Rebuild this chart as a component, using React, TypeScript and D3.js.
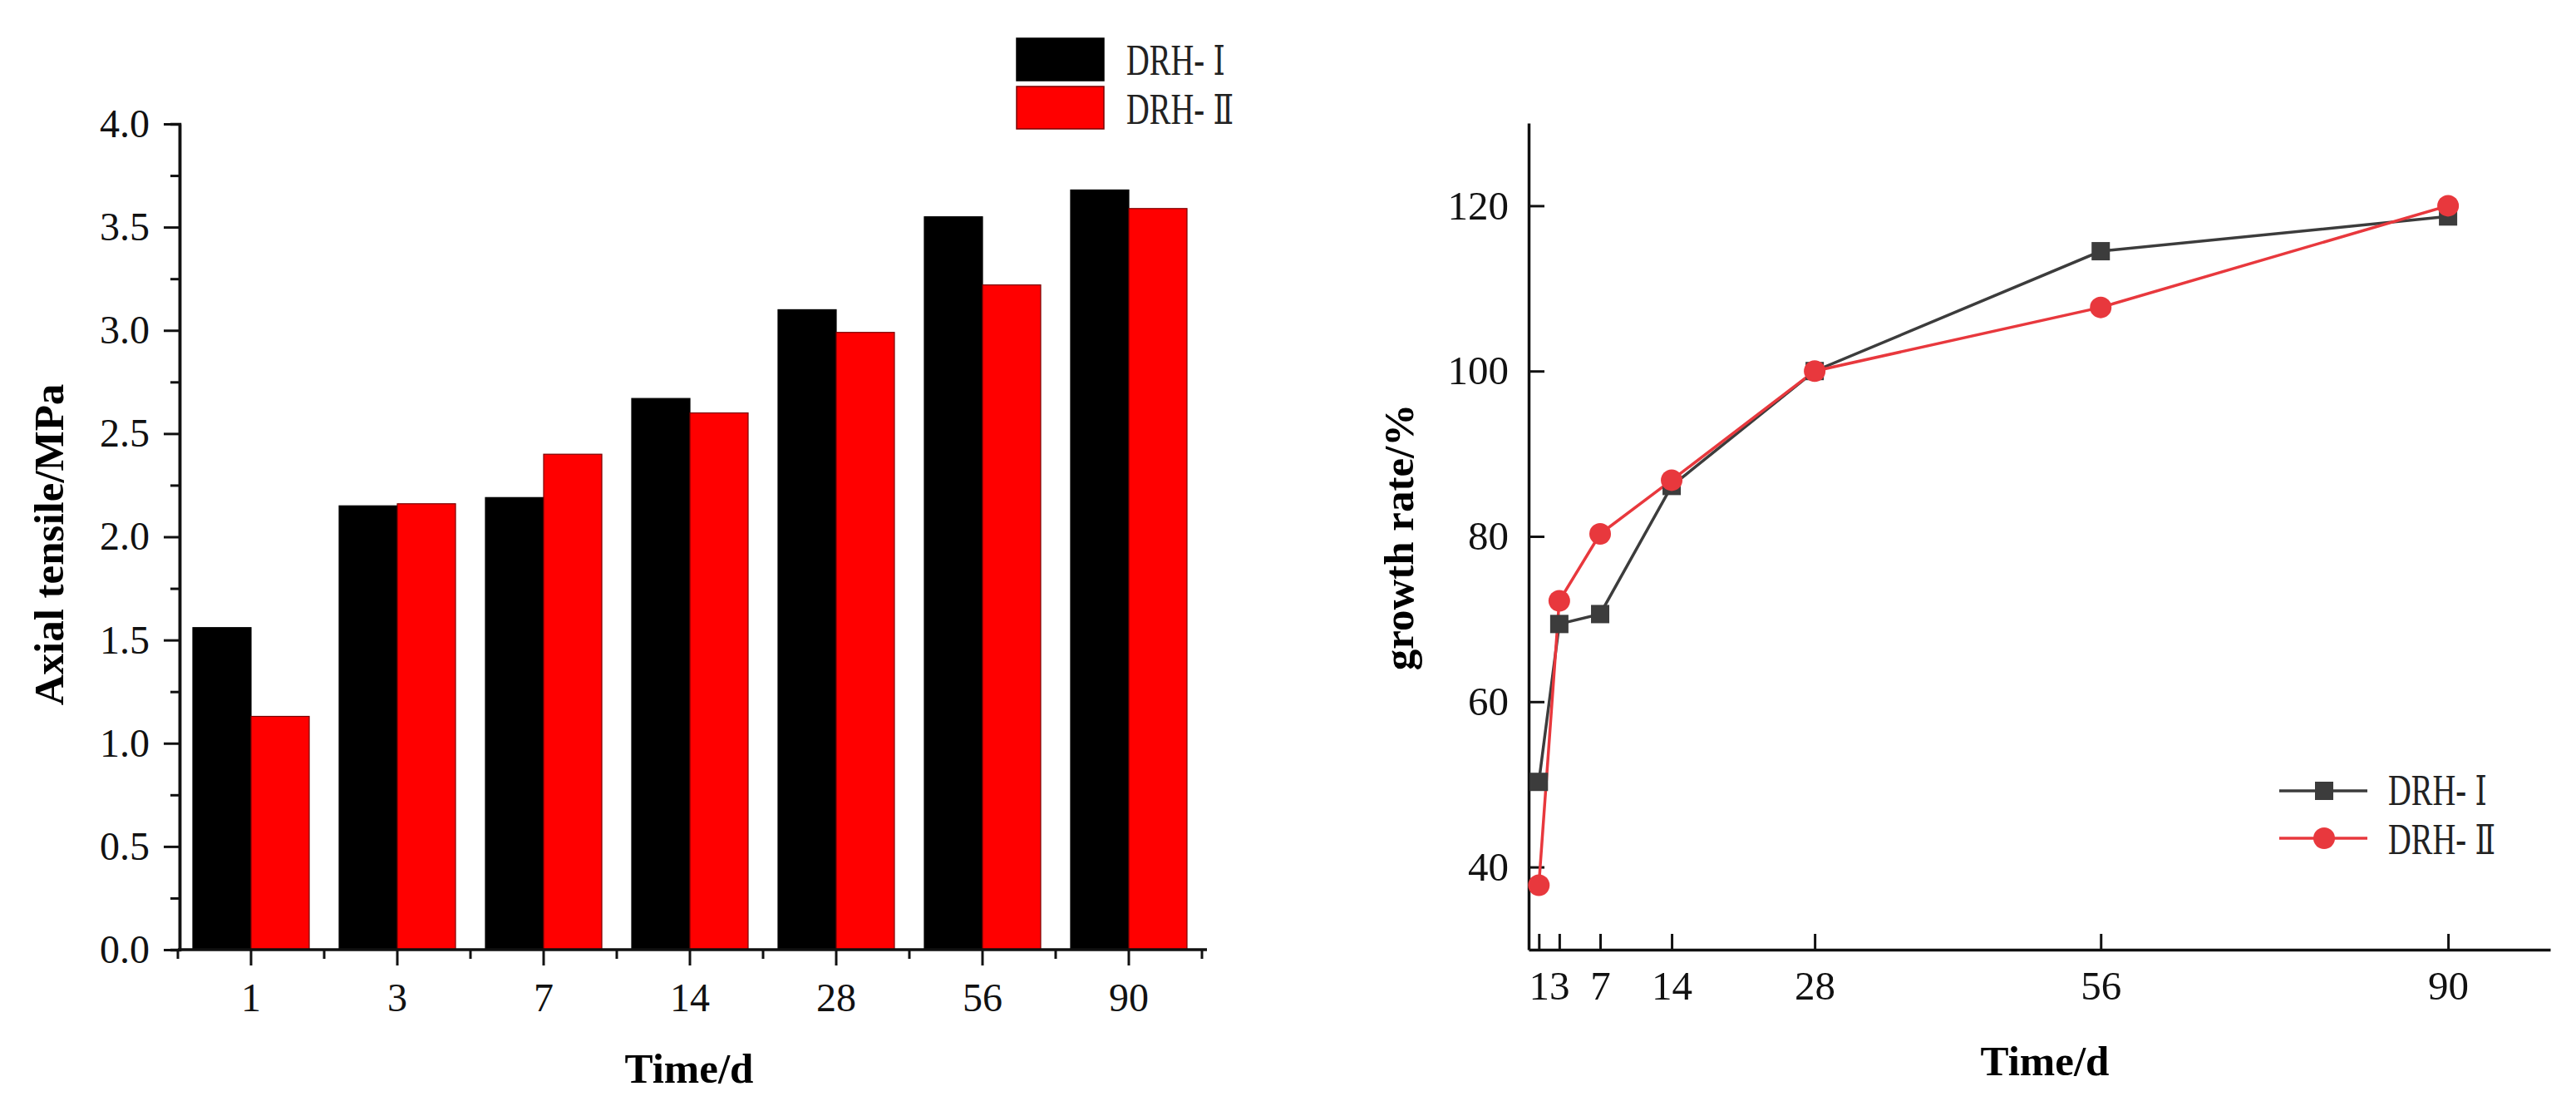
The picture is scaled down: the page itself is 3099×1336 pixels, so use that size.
import React, { useEffect, useRef } from "react";
import * as d3 from "d3";

const days = ["1", "3", "7", "14", "28", "56", "90"];
const dayNums = [1, 3, 7, 14, 28, 56, 90];
const seriesNames = ["DRH-Ⅰ", "DRH-Ⅱ"];
const tensileI = [1.56, 2.15, 2.19, 2.67, 3.1, 3.55, 3.68];
const tensileII = [1.13, 2.16, 2.4, 2.6, 2.99, 3.22, 3.59];
const growthI = [50.3, 69.4, 70.6, 86.1, 100, 114.5, 118.7];
const growthII = [37.8, 72.2, 80.3, 86.8, 100, 107.7, 120.0];
const leftTicks = [0, 0.5, 1, 1.5, 2, 2.5, 3, 3.5, 4];
const rightTicks = [40, 60, 80, 100, 120];

const W = 3099;
const H = 1336;
const serif = "'Liberation Serif', 'Times New Roman', serif";
const barColors = ["#000000", "#ff0000"];
const lineColors = ["#3c3c3c", "#e8383d"];

// legend label: "DRH-" in serif, the roman numeral in a serif font that has it
function legendText(
  g: d3.Selection<SVGGElement, unknown, null, undefined>,
  name: string,
  x: number,
  y: number,
) {
  const t = g
    .append("text")
    .attr("transform", `translate(${x},${y}) scale(0.74,1)`)
    .attr("font-family", serif)
    .attr("font-size", 52)
    .attr("fill", "#222");
  t.append("tspan").text(name.slice(0, 4));
  t.append("tspan")
    .attr("dx", 14)
    .attr("font-family", "'DejaVu Serif', 'Noto Sans CJK SC', serif")
    .attr("font-size", 49)
    .text(name.slice(4));
}

const App: React.FC = () => {
  const svgRef = useRef<SVGSVGElement | null>(null);

  useEffect(() => {
    document.body.style.margin = "0";
    const svg = d3.select(svgRef.current);
    svg.selectAll("*").remove();
    svg.append("rect").attr("width", W).attr("height", H).attr("fill", "#fff");

    // ---------- left: bar chart ----------
    const y = d3.scaleLinear().domain([0, 4]).range([1142, 149]);
    const x = d3
      .scaleBand()
      .domain(days)
      .range([214, 1446])
      .paddingInner(0.2045)
      .paddingOuter(0.1023);
    const xs = d3.scaleBand().domain(seriesNames).range([0, x.bandwidth()]);
    const tensile = [tensileI, tensileII];

    const left = svg.append("g");
    seriesNames.forEach((name, si) => {
      left
        .append("g")
        .selectAll("rect")
        .data(tensile[si])
        .enter()
        .append("rect")
        .attr("x", (_, i) => (x(days[i]) as number) + (xs(name) as number))
        .attr("y", (d) => y(d))
        .attr("width", xs.bandwidth())
        .attr("height", (d) => y(0) - y(d))
        .attr("fill", barColors[si])
        .attr("stroke", si === 0 ? "#000" : "#7a0000")
        .attr("stroke-width", 1.2);
    });

    // minor y ticks
    left
      .append("g")
      .attr("transform", "translate(216,0)")
      .call(
        d3
          .axisLeft(y)
          .tickValues(d3.range(0.25, 4, 0.5))
          .tickSize(11)
          .tickFormat(() => ""),
      );
    // major y axis
    const gy = left
      .append("g")
      .attr("transform", "translate(216,0)")
      .call(
        d3
          .axisLeft(y)
          .tickValues(leftTicks)
          .tickSize(19)
          .tickSizeOuter(0)
          .tickPadding(17)
          .tickFormat(d3.format(".1f")),
      );

    // x axis, minor ticks halfway between the groups
    const step = x.step();
    const minorX = days
      .map((d) => (x(d) as number) + x.bandwidth() / 2 - step / 2)
      .concat([(x(days[days.length - 1]) as number) + x.bandwidth() / 2 + step / 2]);
    left
      .append("g")
      .selectAll("line")
      .data(minorX)
      .enter()
      .append("line")
      .attr("x1", (d) => d)
      .attr("x2", (d) => d)
      .attr("y1", 1142)
      .attr("y2", 1153);
    const gx = left
      .append("g")
      .attr("transform", "translate(0,1142)")
      .call(d3.axisBottom(x).tickSize(19).tickSizeOuter(0).tickPadding(21));
    gx.select(".domain").attr("d", "M214,0H1452");

    [gy, gx].forEach((g) => {
      g.selectAll("text").attr("font-family", serif).attr("font-size", 48).attr("fill", "#111");
    });
    left.selectAll("line").attr("stroke", "#111").attr("stroke-width", 3);
    left.selectAll(".domain").attr("stroke", "#111").attr("stroke-width", 3.5);

    left
      .append("text")
      .attr("transform", "translate(76,655) rotate(-90)")
      .attr("text-anchor", "middle")
      .attr("font-family", serif)
      .attr("font-weight", "bold")
      .attr("font-size", 51)
      .text("Axial tensile/MPa");
    left
      .append("text")
      .attr("x", 829)
      .attr("y", 1302)
      .attr("text-anchor", "middle")
      .attr("font-family", serif)
      .attr("font-weight", "bold")
      .attr("font-size", 51)
      .text("Time/d");

    // left legend
    const legL = left.append("g");
    seriesNames.forEach((name, si) => {
      legL
        .append("rect")
        .attr("x", 1223)
        .attr("y", 46 + si * 58)
        .attr("width", 105)
        .attr("height", 51)
        .attr("fill", barColors[si])
        .attr("stroke", si === 0 ? "#000" : "#7a0000")
        .attr("stroke-width", 1.5);
      legendText(legL, name, 1355, 90 + si * 59);
    });

    // ---------- right: line chart ----------
    const rx = d3.scaleLinear().domain([0, 100]).range([1839, 3068]);
    const ry = d3.scaleLinear().domain([30, 130]).range([1142, 148]);
    const right = svg.append("g");

    const gry = right
      .append("g")
      .attr("transform", "translate(1839,0)")
      .call(d3.axisLeft(ry).tickValues(rightTicks).tickSize(-19).tickSizeOuter(0).tickPadding(24));
    const grx = right
      .append("g")
      .attr("transform", "translate(0,1142)")
      .call(
        d3
          .axisBottom(rx)
          .tickValues(dayNums)
          .tickFormat((d) => String(d))
          .tickSize(-19)
          .tickSizeOuter(0)
          .tickPadding(25),
      );
    [gry, grx].forEach((g) => {
      g.selectAll("text").attr("font-family", serif).attr("font-size", 49).attr("fill", "#111");
      g.selectAll("line").attr("stroke", "#111").attr("stroke-width", 3);
      g.select(".domain").attr("stroke", "#111").attr("stroke-width", 3.5);
    });

    const growth = [growthI, growthII];
    const line = d3
      .line<number>()
      .x((_, i) => rx(dayNums[i]))
      .y((d) => ry(d));
    growth.forEach((vals, si) => {
      right
        .append("path")
        .attr("d", line(vals))
        .attr("fill", "none")
        .attr("stroke", lineColors[si])
        .attr("stroke-width", 3.5);
    });
    // markers
    right
      .append("g")
      .selectAll("rect")
      .data(growthI)
      .enter()
      .append("rect")
      .attr("x", (_, i) => rx(dayNums[i]) - 11)
      .attr("y", (d) => ry(d) - 11)
      .attr("width", 22)
      .attr("height", 22)
      .attr("fill", lineColors[0]);
    right
      .append("g")
      .selectAll("circle")
      .data(growthII)
      .enter()
      .append("circle")
      .attr("cx", (_, i) => rx(dayNums[i]))
      .attr("cy", (d) => ry(d))
      .attr("r", 13)
      .attr("fill", lineColors[1]);

    right
      .append("text")
      .attr("transform", "translate(1700,646) rotate(-90)")
      .attr("text-anchor", "middle")
      .attr("font-family", serif)
      .attr("font-weight", "bold")
      .attr("font-size", 51)
      .text("growth rate/%");
    right
      .append("text")
      .attr("x", 2460)
      .attr("y", 1293)
      .attr("text-anchor", "middle")
      .attr("font-family", serif)
      .attr("font-weight", "bold")
      .attr("font-size", 51)
      .text("Time/d");

    // right legend
    const legR = right.append("g");
    seriesNames.forEach((name, si) => {
      const cy = 951 + si * 57;
      legR
        .append("line")
        .attr("x1", 2742)
        .attr("x2", 2848)
        .attr("y1", cy)
        .attr("y2", cy)
        .attr("stroke", lineColors[si])
        .attr("stroke-width", 3.5);
      if (si === 0) {
        legR
          .append("rect")
          .attr("x", 2796 - 11)
          .attr("y", cy - 11)
          .attr("width", 22)
          .attr("height", 22)
          .attr("fill", lineColors[0]);
      } else {
        legR.append("circle").attr("cx", 2796).attr("cy", cy).attr("r", 13).attr("fill", lineColors[1]);
      }
      legendText(legR, name, 2873, 968 + si * 59);
    });
  }, []);

  return (
    <div style={{ width: W, height: H }}>
      <svg ref={svgRef} width={W} height={H} style={{ display: "block" }}></svg>
    </div>
  );
};

export default App;
